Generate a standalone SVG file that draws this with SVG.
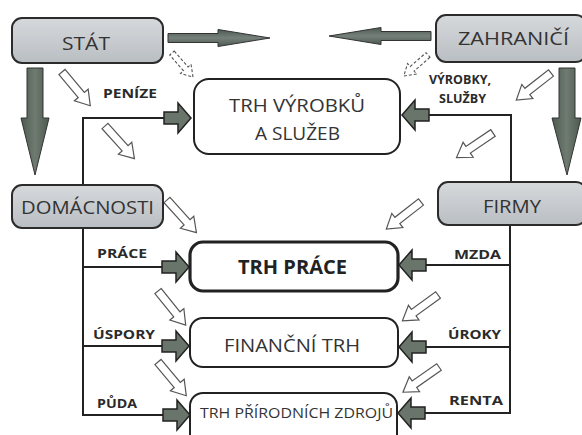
<svg xmlns="http://www.w3.org/2000/svg" width="582" height="435" viewBox="0 0 582 435">
<defs>
<linearGradient id="gbox" x1="0" y1="0" x2="0" y2="1">
<stop offset="0" stop-color="#d6d9dc"/><stop offset="1" stop-color="#b9bec2"/>
</linearGradient>
<linearGradient id="gbigv" x1="0" y1="0" x2="1" y2="0">
<stop offset="0" stop-color="#4d5a50"/><stop offset="0.5" stop-color="#6f7b71"/><stop offset="1" stop-color="#4d5a50"/>
</linearGradient>
<linearGradient id="gbigh" x1="0" y1="0" x2="0" y2="1">
<stop offset="0" stop-color="#4d5a50"/><stop offset="0.5" stop-color="#75807a"/><stop offset="1" stop-color="#4d5a50"/>
</linearGradient>
<path id="blk" d="M-27,-6 H-13 V-15 L0,0 L-13,15 V6 H-27 Z"/>
<path id="hol" d="M0,-4 H30 V-9 L44,0 L30,9 V4 H0 Z"/>
<path id="holS" d="M0,-3 H21 V-7 L32,0 L21,7 V3 H0 Z"/>
</defs>
<style>
.gb{fill:url(#gbox);stroke:#2b2b2b;stroke-width:2}
.wb{fill:#fff;stroke:#222;stroke-width:2}
.wb3{fill:#fff;stroke:#222;stroke-width:3.2}
.t{font-family:"Open Sans","Noto Sans",sans-serif;font-size:19px;fill:#333}
.tb{font-family:"Open Sans","Noto Sans",sans-serif;font-size:19px;font-weight:bold;fill:#222}
.lb{font-family:"Open Sans","Noto Sans",sans-serif;font-size:13px;font-weight:bold;fill:#2a2a2a}
.ln{fill:none;stroke:#222;stroke-width:2}
.ba{fill:#69756a;stroke:#222;stroke-width:1.5}
.ha{fill:#fff;stroke:#555;stroke-width:1.2}
.hd{fill:#fff;stroke:#555;stroke-width:1.1;stroke-dasharray:3 2}
</style>
<rect width="582" height="435" fill="#fff"/>

<g id="connectors">
<polyline class="ln" points="166,118 83,118 83,185"/>
<line class="ln" x1="83" y1="228" x2="83" y2="415"/>
<line class="ln" x1="82" y1="267" x2="163" y2="267"/>
<line class="ln" x1="82" y1="346" x2="163" y2="346"/>
<line class="ln" x1="82" y1="415" x2="163" y2="415"/>
<polyline class="ln" points="428,115 511,115 511,182"/>
<line class="ln" x1="510" y1="225" x2="510" y2="413"/>
<line class="ln" x1="511" y1="265" x2="425" y2="265"/>
<line class="ln" x1="511" y1="347" x2="425" y2="347"/>
<line class="ln" x1="511" y1="413" x2="425" y2="413"/>
<use href="#blk" class="ba" transform="translate(191,118)"/>
<use href="#blk" class="ba" transform="translate(189,267)"/>
<use href="#blk" class="ba" transform="translate(189,346)"/>
<use href="#blk" class="ba" transform="translate(190,415)"/>
<use href="#blk" class="ba" transform="translate(402,115) scale(-1,1)"/>
<use href="#blk" class="ba" transform="translate(399,265) scale(-1,1)"/>
<use href="#blk" class="ba" transform="translate(399,347) scale(-1,1)"/>
<use href="#blk" class="ba" transform="translate(398,413) scale(-1,1)"/>
<path d="M168,33.5 H218 V29.5 L270,38 L218,46.5 V42.5 H168 Z" fill="url(#gbigh)" stroke="#333" stroke-width="1"/>
<path d="M431,31.5 H381 V27.5 L329,36 L381,44.5 V40.5 H431 Z" fill="url(#gbigh)" stroke="#333" stroke-width="1"/>
<path d="M27,68 H43 V118 H49 L35,175 L21,118 H27 Z" fill="url(#gbigv)" stroke="#333" stroke-width="1"/>
<path d="M559,68 H575 V118 H581 L567,175 L552,118 H559 Z" fill="url(#gbigv)" stroke="#333" stroke-width="1"/>
<use href="#holS" class="hd" transform="translate(172,53) rotate(49)"/>
<use href="#hol" class="ha" transform="translate(62,72) rotate(50)"/>
<use href="#hol" class="ha" transform="translate(105,126) rotate(48)"/>
<use href="#hol" class="ha" transform="translate(167,200) rotate(48)"/>
<use href="#hol" class="ha" transform="translate(158,291) rotate(51)"/>
<use href="#hol" class="ha" transform="translate(158,362) rotate(50)"/>
<use href="#holS" class="hd" transform="translate(428,55) rotate(139)"/>
<use href="#hol" class="ha" transform="translate(551,73) rotate(142)"/>
<use href="#hol" class="ha" transform="translate(493,133) rotate(146)"/>
<use href="#hol" class="ha" transform="translate(421,202) rotate(142)"/>
<use href="#hol" class="ha" transform="translate(438,295) rotate(144)"/>
<use href="#hol" class="ha" transform="translate(439,367) rotate(145)"/>
</g>

<g id="stat">
<rect class="gb" x="12" y="18" width="151" height="45" rx="10"/>
<text class="t" x="62" y="50" textLength="48" lengthAdjust="spacingAndGlyphs">STÁT</text>
</g>
<g id="zahranici">
<rect class="gb" x="436" y="15" width="150" height="47" rx="10"/>
<text class="t" x="458" y="45" textLength="111" lengthAdjust="spacingAndGlyphs">ZAHRANIČÍ</text>
</g>
<g id="domacnosti">
<rect class="gb" x="12" y="185" width="151" height="43" rx="10"/>
<text class="t" x="21" y="214" textLength="133" lengthAdjust="spacingAndGlyphs">DOMÁCNOSTI</text>
</g>
<g id="firmy">
<rect class="gb" x="438" y="182" width="148" height="43" rx="10"/>
<text class="t" x="483" y="213" textLength="58" lengthAdjust="spacingAndGlyphs">FIRMY</text>
</g>
<g id="trh-vyrobku">
<rect class="wb" x="194" y="79" width="206" height="75" rx="15"/>
<text class="t" x="229" y="112" textLength="136" lengthAdjust="spacingAndGlyphs">TRH VÝROBKŮ</text>
<text class="t" x="255" y="140" textLength="85" lengthAdjust="spacingAndGlyphs">A SLUŽEB</text>
</g>
<g id="trh-prace">
<rect class="wb3" x="190" y="242" width="208" height="49" rx="13"/>
<text class="tb" x="238" y="274" textLength="109" lengthAdjust="spacingAndGlyphs">TRH PRÁCE</text>
</g>
<g id="financni-trh">
<rect class="wb" x="190" y="318" width="208" height="49" rx="13"/>
<text class="t" x="224" y="352" textLength="136" lengthAdjust="spacingAndGlyphs">FINANČNÍ TRH</text>
</g>
<g id="trh-prirodnich-zdroju">
<rect class="wb" x="190" y="393" width="207" height="55" rx="13"/>
<text class="t" x="200" y="418" style="font-size:15px" textLength="193" lengthAdjust="spacingAndGlyphs">TRH PŘÍRODNÍCH ZDROJŮ</text>
</g>

<g id="labels">
<text class="lb" x="103" y="98" textLength="54" lengthAdjust="spacingAndGlyphs">PENÍZE</text>
<text class="lb" x="429" y="84" textLength="62" lengthAdjust="spacingAndGlyphs">VÝROBKY,</text>
<text class="lb" x="439" y="103" textLength="47" lengthAdjust="spacingAndGlyphs">SLUŽBY</text>
<text class="lb" x="97" y="258" textLength="50" lengthAdjust="spacingAndGlyphs">PRÁCE</text>
<text class="lb" x="93" y="339" textLength="62" lengthAdjust="spacingAndGlyphs">ÚSPORY</text>
<text class="lb" x="97" y="408" textLength="40" lengthAdjust="spacingAndGlyphs">PŮDA</text>
<text class="lb" x="454" y="259" textLength="47" lengthAdjust="spacingAndGlyphs">MZDA</text>
<text class="lb" x="448" y="339" textLength="53" lengthAdjust="spacingAndGlyphs">ÚROKY</text>
<text class="lb" x="449" y="405" textLength="54" lengthAdjust="spacingAndGlyphs">RENTA</text>
</g>
</svg>
